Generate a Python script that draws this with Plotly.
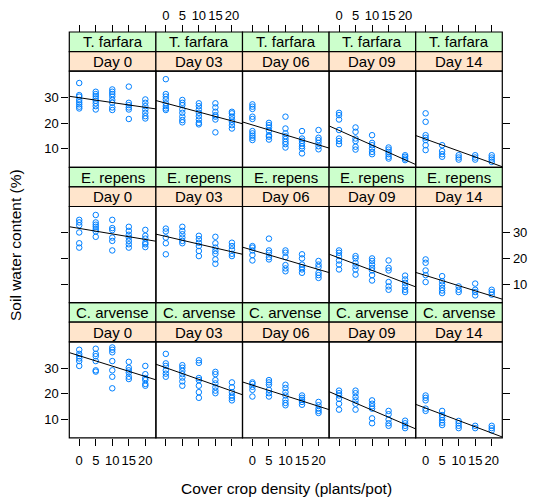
import numpy as np
import plotly.graph_objects as go

# Cover crop density levels (plants/pot) and panel labels
DENSITY = [0, 5, 10, 15, 20]
SPECIES = ["T. farfara", "E. repens", "C. arvense"]
DAYS = ["Day 0", "Day 03", "Day 06", "Day 09", "Day 14"]

# Soil water content (%) per density level, one list per species/day
tf_d00 = [[35.6, 30.9, 30.3, 29.0, 28.1, 27.3, 26.4, 25.7],
          [32.2, 31.3, 30.5, 29.6, 28.7, 27.7, 26.6, 25.3],
          [33.1, 32.2, 31.3, 30.3, 29.0, 27.9, 26.1, 25.1],
          [34.2, 27.9, 27.0, 26.1, 25.3, 21.6],
          [29.2, 27.9, 26.6, 25.3, 24.0, 22.7, 21.8]]
tf_d03 = [[37.1, 31.3, 30.3, 29.2, 27.7, 26.6, 25.7, 25.1],
          [29.0, 27.9, 27.0, 25.3, 24.0, 22.5, 21.2, 20.3],
          [27.7, 26.6, 25.3, 24.0, 22.7, 21.4, 20.1, 19.5],
          [27.7, 26.1, 24.4, 23.1, 22.5, 21.4, 16.4],
          [24.4, 23.8, 22.5, 21.4, 20.5, 19.2, 17.9]]
tf_d06 = [[27.3, 26.4, 25.5, 22.5, 21.6, 16.9, 16.0, 15.1, 14.3, 13.4],
          [20.1, 19.2, 18.3, 17.0, 15.3, 14.7, 13.6],
          [22.5, 17.9, 16.0, 14.9, 13.8, 12.7, 11.8, 10.5],
          [16.9, 14.0, 13.1, 12.1, 11.0, 10.1, 8.2],
          [17.3, 14.3, 13.4, 12.3, 11.0, 9.8]]
tf_d09 = [[24.0, 23.1, 21.4, 17.3, 14.0, 13.0, 11.8],
          [18.3, 16.6, 14.0, 13.0, 10.8, 9.7],
          [15.3, 12.3, 11.4, 10.1, 8.8, 7.9],
          [10.5, 9.7, 8.8, 7.9, 6.9, 6.2],
          [7.5, 6.9, 6.2, 5.6]]
tf_d14 = [[23.8, 20.5, 15.3, 14.3, 13.4, 11.4, 9.5],
          [11.4, 9.1, 7.9, 6.9],
          [7.5, 6.6, 5.8],
          [7.5, 6.6, 5.8],
          [7.5, 6.6, 5.8, 4.9]]

er_d00 = [[35.0, 34.0, 32.9, 30.1, 25.9, 24.2],
          [36.9, 34.0, 33.1, 32.3, 31.4, 30.5, 28.4],
          [35.0, 31.8, 31.0, 28.1, 26.8, 23.1],
          [32.3, 30.7, 29.2, 28.1, 26.8, 25.5, 24.2],
          [31.1, 28.8, 27.7, 26.1, 25.5, 24.4]]
er_d03 = [[31.6, 30.5, 28.1, 25.9, 21.6],
          [32.3, 30.7, 29.4, 28.1, 26.8, 25.9],
          [28.8, 27.5, 26.1, 24.8, 22.9, 20.9],
          [28.4, 25.9, 24.2, 22.9, 21.8, 19.6, 17.9],
          [26.1, 24.8, 23.5, 21.8, 20.9]]
er_d06 = [[24.8, 24.2, 23.1, 21.3, 19.2],
          [27.7, 23.1, 22.2, 20.5, 19.6],
          [23.1, 22.2, 20.5, 17.4, 16.1, 15.0],
          [21.6, 20.0, 17.6, 16.6, 15.7, 14.4],
          [19.0, 17.6, 16.6, 14.4, 13.5, 12.4]]
er_d09 = [[23.1, 22.2, 20.9, 19.2, 17.6, 15.7],
          [20.9, 20.0, 18.3, 17.0, 15.7, 13.7],
          [20.0, 19.0, 17.6, 16.3, 15.3, 13.5, 11.4],
          [19.2, 16.3, 15.3, 10.8, 9.1, 7.8],
          [13.3, 11.8, 10.5, 9.1, 7.8, 6.9]]
er_d14 = [[19.6, 18.3, 15.3, 13.5, 10.8],
          [13.1, 11.1, 9.8, 8.5, 7.5, 6.5],
          [9.1, 7.8, 6.9],
          [10.2, 7.8, 6.9, 5.6],
          [7.8, 6.9, 5.9]]

ca_d00 = [[37.1, 35.5, 34.6, 33.7, 32.7, 30.8],
          [37.5, 35.5, 34.6, 32.7, 29.1, 28.6],
          [38.0, 37.1, 36.1, 32.7, 29.1, 26.6, 22.1],
          [32.4, 30.1, 29.1, 28.2, 26.6, 25.7],
          [30.8, 27.6, 26.1, 25.3, 23.8, 23.1]]
ca_d03 = [[35.5, 31.8, 30.8, 29.1, 27.8, 26.6],
          [31.1, 30.1, 28.9, 27.6, 26.3, 24.8, 23.1],
          [33.0, 32.0, 26.1, 25.3, 23.1, 20.6, 18.4],
          [28.5, 27.6, 25.3, 24.0, 22.5, 21.2, 20.2],
          [24.4, 22.5, 20.6, 19.3, 18.4, 17.4]]
ca_d06 = [[24.4, 23.8, 22.7, 21.5, 18.9],
          [25.3, 24.4, 23.5, 21.5, 20.2, 18.9],
          [23.5, 22.2, 20.6, 19.3, 17.6, 16.4, 15.5],
          [19.3, 18.4, 17.6, 16.8, 15.7],
          [16.8, 15.5, 14.2, 13.3, 12.5]]
ca_d09 = [[21.2, 20.2, 19.3, 18.0, 16.1, 13.8],
          [21.2, 20.2, 18.7, 17.4, 16.1, 13.8],
          [17.4, 16.1, 15.1, 14.2, 10.4, 8.5],
          [13.3, 12.0, 10.0, 8.5, 7.5],
          [9.5, 8.5, 7.5, 6.6]]
ca_d14 = [[19.3, 18.4, 17.4, 14.2, 13.3],
          [13.3, 11.7, 10.8, 9.7, 8.7, 7.8],
          [9.4, 8.5, 7.5, 6.6],
          [7.5, 6.6],
          [7.5, 6.6, 5.7]]

PANELS = [[tf_d00, tf_d03, tf_d06, tf_d09, tf_d14],
          [er_d00, er_d03, er_d06, er_d09, er_d14],
          [ca_d00, ca_d03, ca_d06, ca_d09, ca_d14]]

X_TICKS = [0, 5, 10, 15, 20]
Y_TICKS = [10, 20, 30]

# ---- layout geometry (pixels) ----
W, H = 533, 501
X_RANGE = [-3.0, 23.2]
Y_RANGE = [2.8, 40.2]
LEFT, PW = 69.3, 86.6          # panel left edge, panel width
TOP, PITCH = 32.0, 135.3       # top of first strip, row pitch
SH = 19.6                      # strip height
FONT = "Arial, Liberation Sans, sans-serif"
PT_COL = "#0080FF"
TICK_SIZE = 13
STRIP_SIZE = 15
TITLE_SIZE = 15.5


def px(x):
    return x / W


def py(y):
    return 1 - y / H


fig = go.Figure()
shapes = []
annotations = []
layout = {}

for r in range(3):
    strip1 = TOP + r * PITCH
    strip2 = strip1 + SH
    ptop = strip1 + 2 * SH
    pbot = strip1 + PITCH
    for c in range(5):
        k = r * 5 + c + 1
        xa, ya = f"x{k}", f"y{k}"
        x0, x1 = LEFT + c * PW, LEFT + (c + 1) * PW

        data = PANELS[r][c]
        xs, ys = [], []
        for d, vals in zip(DENSITY, data):
            xs += [d] * len(vals)
            ys += vals
        fig.add_trace(go.Scatter(
            x=xs, y=ys, mode="markers", xaxis=xa, yaxis=ya, showlegend=False,
            marker=dict(symbol="circle-open", size=5.5, color=PT_COL,
                        line=dict(width=1, color=PT_COL))))
        slope, icpt = np.polyfit(xs, ys, 1)
        lx = np.array(X_RANGE)
        fig.add_trace(go.Scatter(
            x=lx, y=icpt + slope * lx, mode="lines", xaxis=xa, yaxis=ya,
            showlegend=False, line=dict(color="black", width=1)))

        xax = dict(domain=[px(x0), px(x1)], range=X_RANGE, showgrid=False,
                   zeroline=False, showline=False, tickvals=X_TICKS,
                   ticks="", showticklabels=False, fixedrange=True,
                   tickfont=dict(family=FONT, size=TICK_SIZE, color="black"))
        if r == 0:
            xax.update(anchor="free", position=py(strip1), side="top",
                       ticks="outside", ticklen=7, tickcolor="black",
                       tickwidth=1, showticklabels=(c in (1, 3)))
        else:
            xax.update(anchor=ya)
        if r == 2:
            xax.update(ticks="outside", ticklen=7, tickcolor="black",
                       tickwidth=1, showticklabels=(c in (0, 2, 4)),
                       ticklabelstandoff=3)
        layout["xaxis" if k == 1 else f"xaxis{k}"] = xax

        yax = dict(domain=[py(pbot), py(ptop)], range=Y_RANGE, anchor=xa,
                   showgrid=False, zeroline=False, showline=False,
                   tickvals=Y_TICKS, ticks="", showticklabels=False,
                   fixedrange=True,
                   tickfont=dict(family=FONT, size=TICK_SIZE, color="black"))
        if c == 0:
            yax.update(ticks="outside", ticklen=7, tickcolor="black",
                       tickwidth=1, showticklabels=(r in (0, 2)))
        if c == 4:
            yax.update(side="right", ticks="outside", ticklen=7,
                       tickcolor="black", tickwidth=1,
                       showticklabels=(r == 1))
        layout["yaxis" if k == 1 else f"yaxis{k}"] = yax

        # strips: species (green) over day (orange)
        for (s0, s1, fill, label) in [(strip1, strip2, "#CCFFCC", SPECIES[r]),
                                      (strip2, ptop, "#FFE5CC", DAYS[c])]:
            shapes.append(dict(type="rect", xref="paper", yref="paper",
                               x0=px(x0), x1=px(x1), y0=py(s1), y1=py(s0),
                               fillcolor=fill,
                               line=dict(color="black", width=1.2),
                               layer="below"))
            annotations.append(dict(text=label, xref="paper", yref="paper",
                                    x=px((x0 + x1) / 2), y=py((s0 + s1) / 2),
                                    showarrow=False, xanchor="center",
                                    yanchor="middle",
                                    font=dict(family=FONT, size=STRIP_SIZE,
                                              color="black")))
        # panel border
        shapes.append(dict(type="rect", xref="paper", yref="paper",
                           x0=px(x0), x1=px(x1), y0=py(pbot), y1=py(ptop),
                           fillcolor="rgba(0,0,0,0)",
                           line=dict(color="black", width=1.2), layer="above"))

annotations.append(dict(text="Soil water content (%)", xref="paper",
                        yref="paper", x=px(15), y=py(245), textangle=-90,
                        showarrow=False, xanchor="center", yanchor="middle",
                        font=dict(family=FONT, size=TITLE_SIZE, color="black")))
annotations.append(dict(text="Cover crop density (plants/pot)", xref="paper",
                        yref="paper", x=px(286), y=py(488), showarrow=False,
                        xanchor="center", yanchor="middle",
                        font=dict(family=FONT, size=TITLE_SIZE, color="black")))

fig.update_layout(width=W, height=H, margin=dict(l=0, r=0, t=0, b=0),
                  paper_bgcolor="white", plot_bgcolor="white",
                  shapes=shapes, annotations=annotations, **layout)

fig.write_html("out.html")
